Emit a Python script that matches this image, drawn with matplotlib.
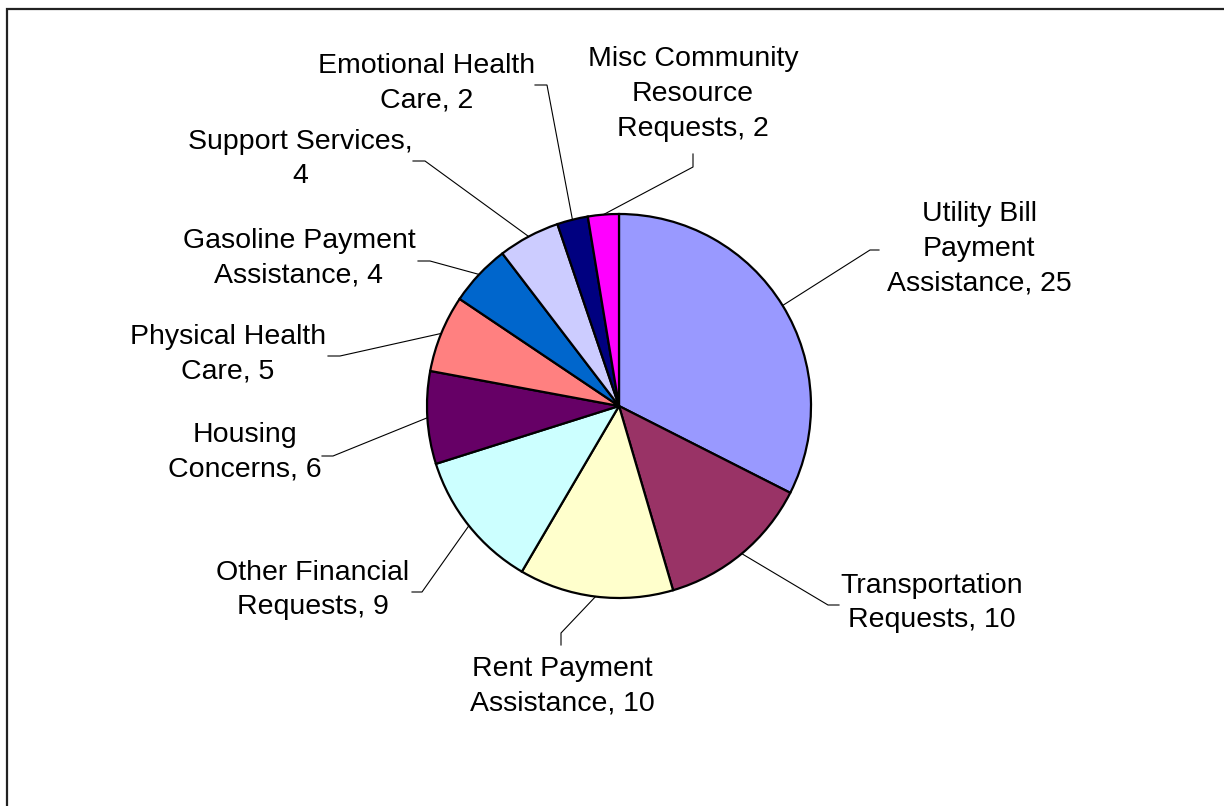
import numpy as np
import matplotlib
matplotlib.use("Agg")
import matplotlib.pyplot as plt
from matplotlib.patches import Rectangle

# categories and counts, clockwise from 12 o'clock
names = ["Utility Bill\nPayment\nAssistance", "Transportation\nRequests",
         "Rent Payment\nAssistance", "Other Financial\nRequests",
         "Housing\nConcerns", "Physical Health\nCare",
         "Gasoline Payment\nAssistance", "Support Services",
         "Emotional Health\nCare", "Misc Community\nResource\nRequests"]
values = [25, 10, 10, 9, 6, 5, 4, 4, 2, 2]
colors = ["#9999FF", "#993366", "#FFFFCC", "#CCFFFF", "#660066",
          "#FF8080", "#0066CC", "#CCCCFF", "#000080", "#FF00FF"]
seps = [", "] * len(names)
seps[7] = ",\n"
labels = [n + s + str(v) for n, s, v in zip(names, seps, values)]

# label layout (pixel coords, y down): text centre, elbow, end of leader
text_pos = [(979, 249), (932, 603), (562, 686), (313, 590), (245, 452),
            (228, 354), (299, 258), (300, 159), (427, 83), (693, 94)]
elbow = [(870, 250), (828, 605), (561, 633), (422, 592), (333, 456),
         (340, 356), (430, 261), (425, 161), (547, 85), (693, 167)]
leader_end = [(879, 250), (839, 605), (561, 645), (412, 592), (322, 456),
              (328, 356), (418, 261), (413, 161), (535, 85), (693, 154)]

cx, cy, r = 619, 406, 192

plt.rcParams['font.family'] = ['Liberation Sans', 'DejaVu Sans']
fig = plt.figure(figsize=(12.24, 8.06), dpi=100)
ax = fig.add_axes([0, 0, 1, 1])

wedges, _ = ax.pie(values, colors=colors, startangle=90, counterclock=False,
                   radius=r, center=(cx, -cy), frame=True,
                   wedgeprops=dict(edgecolor='black', linewidth=1.6))
ax.set_xlim(0, 1224)
ax.set_ylim(-806, 0)
ax.axis('off')

for w, lab, tp, el, le in zip(wedges, labels, text_pos, elbow, leader_end):
    mid = np.deg2rad((w.theta1 + w.theta2) / 2)
    ax0 = cx + r * np.cos(mid)
    ay0 = -cy + r * np.sin(mid)
    ax.plot([ax0, el[0], le[0]], [ay0, -el[1], -le[1]], color='black', lw=0.8,
            solid_joinstyle='miter')
    ax.text(tp[0], -tp[1], lab, ha='center', va='center', multialignment='center',
            fontsize=20.5, linespacing=1.44, color='black')

ax.add_patch(Rectangle((7, -1000), 1400, 1000 - 9, fill=False,
                       edgecolor='#222222', linewidth=1.6, clip_on=False))

fig.savefig("out.png", dpi=100)
